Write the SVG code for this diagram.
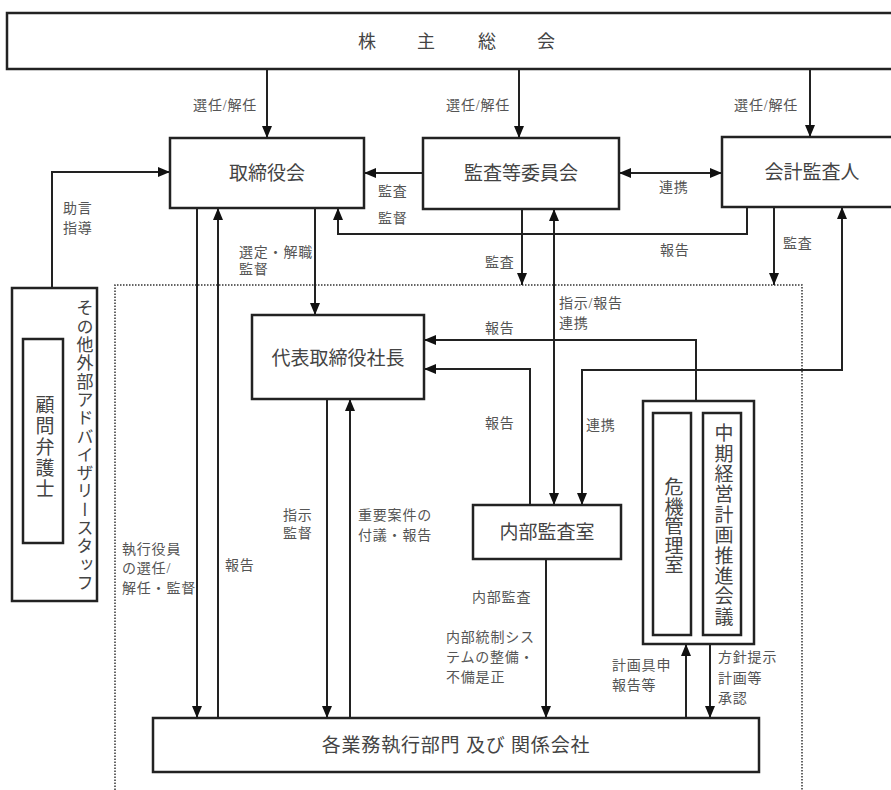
<svg xmlns="http://www.w3.org/2000/svg" width="891" height="790" viewBox="0 0 891 790">
<style>
.box{fill:#fff;stroke:#222;stroke-width:2.5}
.ln{fill:none;stroke:#222;stroke-width:2}
.nt{font-family:"Liberation Serif","Noto Sans CJK JP",serif;font-size:19px;fill:#444;text-anchor:middle;dominant-baseline:central}
.lb{font-family:"Liberation Serif","Noto Sans CJK JP",serif;font-size:14px;letter-spacing:0.8px;fill:#555;dominant-baseline:central}
.vt{font-family:"Liberation Serif","Noto Sans CJK JP",serif;fill:#444;writing-mode:vertical-rl;text-orientation:upright}
.dot{fill:none;stroke:#333;stroke-width:1.5;stroke-dasharray:1.5 1.5}
</style>
<defs>
<marker id="ah" markerUnits="userSpaceOnUse" markerWidth="12" markerHeight="10" refX="12" refY="5" orient="auto-start-reverse">
<path d="M0,0 L12,5 L0,10 z" fill="#111"/>
</marker>
</defs>
<rect width="891" height="790" fill="#fff"/>
<path class="dot" d="M115,790 V285 H802 V790"/>

<g id="connectors">
<path class="ln" d="M267,69 V138" marker-end="url(#ah)"/>
<path class="ln" d="M519,69 V138" marker-end="url(#ah)"/>
<path class="ln" d="M810,69 V137" marker-end="url(#ah)"/>
<path class="ln" d="M423,173 H364" marker-end="url(#ah)"/>
<path class="ln" d="M619,173 H722" marker-start="url(#ah)" marker-end="url(#ah)"/>
<path class="ln" d="M747,207 V234 H338 V208" marker-end="url(#ah)"/>
<path class="ln" d="M522,209 V285" marker-end="url(#ah)"/>
<path class="ln" d="M774,207 V285" marker-end="url(#ah)"/>
<path class="ln" d="M842,207 V370 H582 V505" marker-start="url(#ah)" marker-end="url(#ah)"/>
<path class="ln" d="M554,209 V505" marker-start="url(#ah)" marker-end="url(#ah)"/>
<path class="ln" d="M52,288 V172 H170" marker-end="url(#ah)"/>
<path class="ln" d="M197,208 V718" marker-end="url(#ah)"/>
<path class="ln" d="M218,718 V208" marker-end="url(#ah)"/>
<path class="ln" d="M315,208 V315" marker-end="url(#ah)"/>
<path class="ln" d="M696,401 V340 H424" marker-end="url(#ah)"/>
<path class="ln" d="M530,505 V369 H424" marker-end="url(#ah)"/>
<path class="ln" d="M327,399 V718" marker-end="url(#ah)"/>
<path class="ln" d="M350,718 V399" marker-end="url(#ah)"/>
<path class="ln" d="M546,559 V718" marker-end="url(#ah)"/>
<path class="ln" d="M686,718 V644" marker-end="url(#ah)"/>
<path class="ln" d="M710,644 V718" marker-end="url(#ah)"/>

<text class="lb" x="257" y="105" text-anchor="end">選任/解任</text>
<text class="lb" x="510" y="105" text-anchor="end">選任/解任</text>
<text class="lb" x="798" y="105" text-anchor="end">選任/解任</text>
<text class="lb" x="63" y="208">助言</text>
<text class="lb" x="63" y="228">指導</text>
<text class="lb" x="378" y="191">監査</text>
<text class="lb" x="378" y="218">監督</text>
<text class="lb" x="239" y="252">選定・解職</text>
<text class="lb" x="239" y="269">監督</text>
<text class="lb" x="659" y="187">連携</text>
<text class="lb" x="660" y="250">報告</text>
<text class="lb" x="485" y="262">監査</text>
<text class="lb" x="783" y="243">監査</text>
<text class="lb" x="559" y="303">指示/報告</text>
<text class="lb" x="559" y="323">連携</text>
<text class="lb" x="485" y="328">報告</text>
<text class="lb" x="485" y="423">報告</text>
<text class="lb" x="586" y="425">連携</text>
<text class="lb" x="122" y="549">執行役員</text>
<text class="lb" x="122" y="568">の選任/</text>
<text class="lb" x="122" y="588">解任・監督</text>
<text class="lb" x="225" y="565">報告</text>
<text class="lb" x="283" y="515">指示</text>
<text class="lb" x="283" y="533">監督</text>
<text class="lb" x="358" y="515">重要案件の</text>
<text class="lb" x="358" y="535">付議・報告</text>
<text class="lb" x="472" y="597">内部監査</text>
<text class="lb" x="446" y="637">内部統制シス</text>
<text class="lb" x="446" y="657">テムの整備・</text>
<text class="lb" x="446" y="677">不備是正</text>
<text class="lb" x="612" y="665">計画具申</text>
<text class="lb" x="612" y="685">報告等</text>
<text class="lb" x="718" y="657">方針提示</text>
<text class="lb" x="718" y="678">計画等</text>
<text class="lb" x="718" y="698">承認</text>
</g>

<g id="shareholders">
<rect class="box" x="7" y="13" width="900" height="56"/>
<text class="nt" x="367 426 487 546" y="42" style="font-size:18px">株主総会</text>
</g>
<g id="board">
<rect class="box" x="170" y="138" width="194" height="70"/>
<text class="nt" x="267" y="173">取締役会</text>
</g>
<g id="audit-committee">
<rect class="box" x="423" y="138" width="196" height="71"/>
<text class="nt" x="521" y="173">監査等委員会</text>
</g>
<g id="accounting-auditor">
<rect class="box" x="722" y="137" width="200" height="70"/>
<text class="nt" x="812" y="172">会計監査人</text>
</g>
<g id="advisors">
<rect class="box" x="12" y="288" width="85" height="313"/>
<rect class="box" x="23" y="339" width="40" height="204"/>
<text class="vt" x="43" y="395.5" style="font-size:19px;letter-spacing:2px">顧問弁護士</text>
<text class="vt" x="83" y="299.5" style="font-size:17px;letter-spacing:1.3px">その他外部アドバイザリースタッフ</text>
</g>
<g id="president">
<rect class="box" x="252" y="315" width="172" height="84"/>
<text class="nt" x="338" y="358">代表取締役社長</text>
</g>
<g id="internal-audit">
<rect class="box" x="473" y="505" width="148" height="54"/>
<text class="nt" x="547" y="532">内部監査室</text>
</g>
<g id="risk-and-plan">
<rect class="box" x="643" y="401" width="111" height="243"/>
<rect class="box" x="653" y="413" width="38" height="222"/>
<rect class="box" x="703" y="413" width="38" height="222"/>
<text class="vt" x="672" y="477.5" style="font-size:19px;letter-spacing:0.5px">危機管理室</text>
<text class="vt" x="722" y="423.5" style="font-size:19px;letter-spacing:1.4px">中期経営計画推進会議</text>
</g>
<g id="business-units">
<rect class="box" x="153" y="718" width="606" height="54"/>
<text class="nt" x="456" y="745" style="letter-spacing:0.8px">各業務執行部門 及び 関係会社</text>
</g>
</svg>
